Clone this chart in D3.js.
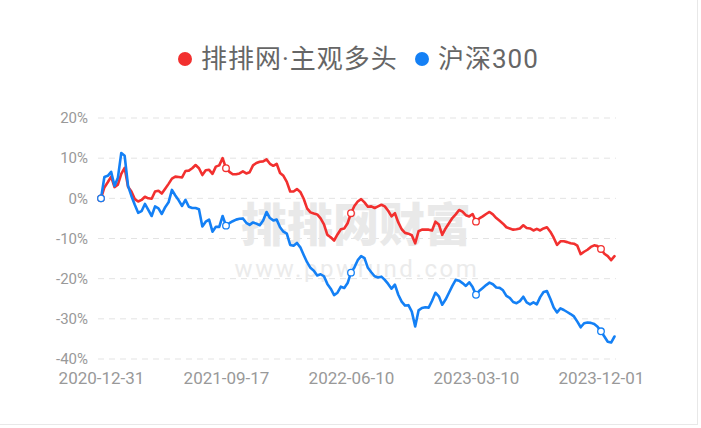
<!DOCTYPE html>
<html><head><meta charset="utf-8">
<script src="https://cdn.jsdelivr.net/npm/d3@7/dist/d3.min.js"></script>
<style>body{margin:0;background:#fff}svg{display:block}</style>
</head><body>
<svg id="c" width="701" height="428"></svg>
<script>
const seriesNames = ["排排网·主观多头", "沪深300"];
const seriesColors = ["#f2302f", "#1480f5"];
const tickLabels = ["2020-12-31", "2021-09-17", "2022-06-10", "2023-03-10", "2023-12-01"];
const tickIndex = [0, 37, 74, 111, 148];
const yTicks = [20, 10, 0, -10, -20, -30, -40];

const redValues = [0,2.7,4.0,5.4,2.8,3.4,6.1,7.6,2.9,1.7,-0.2,-0.8,-0.4,0.4,0.0,-0.1,1.7,1.9,1.2,2.4,3.6,4.9,5.4,5.3,5.2,6.8,6.9,7.5,8.3,7.5,5.8,7.0,7.1,6.1,7.9,8.2,10.0,7.5,
6.6,6.0,6.0,6.2,6.7,6.2,6.5,8.2,8.8,9.1,9.2,9.7,8.6,8.1,8.6,6.3,5.6,4.1,1.7,1.7,2.3,1.6,-0.1,-2.5,-3.5,-3.8,-4.0,-5.0,-6.5,-9.1,-9.7,-10.5,-9.0,-7.7,-7.5,-6.2,-3.7,
-1.9,-0.8,-0.2,-1.0,-2.1,-2.0,-2.4,-2.0,-1.6,-2.0,-3.1,-4.5,-3.7,-6.0,-7.7,-8.6,-8.8,-9.2,-11.2,-8.2,-7.8,-7.8,-7.8,-8.0,-5.8,-6.5,-9.1,-7.5,-6.2,-4.9,-4.0,-2.9,-3.3,-4.2,-4.5,-3.9,-5.8,
-5.0,-4.5,-3.9,-3.4,-4.0,-4.9,-5.6,-6.3,-7.2,-7.5,-7.8,-7.7,-7.5,-6.7,-7.4,-7.5,-8.0,-7.6,-8.0,-7.5,-7.2,-8.3,-9.8,-11.6,-10.7,-10.7,-10.9,-11.2,-11.3,-11.8,-13.9,-13.3,-12.8,-12.1,-11.7,-11.9,-12.6,-13.8,-14.4,-15.4,-14.4];

const blueValues = [0,5.3,5.6,6.6,3.1,5.1,11.3,10.6,3.1,0.6,-1.6,-3.6,-3.2,-1.4,-2.9,-4.4,-2.0,-2.5,-3.9,-2.2,-1.0,2.1,0.7,-0.5,-1.9,-0.4,-2.1,-2.4,-2.4,-2.7,-7.0,-5.8,-5.3,-8.3,-7.1,-7.1,-4.4,-6.8,
-6.2,-5.7,-5.3,-5.1,-5.0,-6.1,-6.6,-6.0,-6.3,-6.7,-5.5,-3.4,-4.9,-5.5,-5.3,-7.2,-8.3,-8.8,-11.6,-11.8,-11.1,-12.2,-14.1,-15.9,-17.3,-18.0,-19.2,-18.9,-19.4,-21.3,-22.5,-24.1,-23.5,-22.0,-22.3,-21.1,-18.5,
-17.2,-15.4,-14.4,-14.9,-17.3,-18.4,-19.4,-19.7,-19.5,-20.3,-21.3,-22.5,-21.5,-24.0,-25.7,-26.7,-26.6,-28.2,-31.9,-27.9,-27.3,-27.1,-27.2,-25.5,-23.5,-24.4,-26.5,-25.2,-23.5,-21.8,-20.3,-20.5,-21.1,-21.8,-20.9,-22.1,-24.0,
-23.0,-22.3,-21.6,-21.0,-21.4,-22.2,-22.3,-22.9,-24.3,-24.8,-25.8,-26.1,-25.6,-24.5,-25.9,-26.4,-25.9,-26.4,-24.6,-23.3,-23.1,-25.0,-27.2,-28.4,-27.4,-27.8,-28.3,-28.8,-29.4,-30.7,-32.1,-31.1,-30.9,-31.0,-31.3,-32.0,-33.1,-34.4,-35.7,-35.9,-34.4];

const svg = d3.select("#c");
const N = redValues.length;
const x = d3.scaleLinear().domain([0, N - 1]).range([101, 614.5]);
const y = d3.scaleLinear().domain([-40, 20]).range([359, 118]);

// frame
svg.append("line").attr("x1", 697.5).attr("x2", 697.5).attr("y1", 0).attr("y2", 425).attr("stroke", "#e8e8e8");
svg.append("line").attr("x1", 0).attr("x2", 698).attr("y1", 424.5).attr("y2", 424.5).attr("stroke", "#e8e8e8");

// grid
svg.append("g").selectAll("line").data(yTicks).join("line")
  .attr("x1", 98).attr("x2", 616)
  .attr("y1", d => y(d)).attr("y2", d => y(d))
  .attr("stroke", "#e3e3e3").attr("stroke-width", 1).attr("stroke-dasharray", "6,5");

// watermark
svg.append("text").attr("x", 356).attr("y", 241).attr("text-anchor", "middle")
  .attr("font-family", "Noto Sans CJK SC").attr("font-weight", 900).attr("font-size", 46)
  .attr("fill", "#e9e9e9").text("排排网财富");
svg.append("text").attr("x", 357).attr("y", 277).attr("text-anchor", "middle")
  .attr("font-family", "Roboto, Arial").attr("font-size", 24).attr("letter-spacing", 2.6)
  .attr("fill", "#ebebeb").text("www.ppwfund.com");

// y axis
const ya = svg.append("g").attr("transform", "translate(88,0)")
  .call(d3.axisLeft(y).tickValues(yTicks).tickFormat(d => d + "%").tickSize(0).tickPadding(0));
ya.select(".domain").remove();
ya.selectAll("text").attr("font-family", "Roboto").attr("font-size", 15).attr("fill", "#999");

// x axis
const xa = svg.append("g").attr("transform", "translate(0,368)")
  .call(d3.axisBottom(x).tickValues(tickIndex).tickFormat((d, i) => tickLabels[i]).tickSize(0).tickPadding(4));
xa.select(".domain").remove();
xa.selectAll("text").attr("font-family", "Roboto").attr("font-size", 17).attr("fill", "#999");

// lines
const line = d3.line().x((d, i) => x(i)).y(d => y(d));
[redValues, blueValues].forEach((vals, s) => {
  svg.append("path").datum(vals).attr("d", line).attr("fill", "none")
    .attr("stroke", seriesColors[s]).attr("stroke-width", 2.6)
    .attr("stroke-linejoin", "round").attr("stroke-linecap", "round");
});
[redValues, blueValues].forEach((vals, s) => {
  svg.append("g").selectAll("circle").data(tickIndex).join("circle")
    .attr("cx", d => x(d)).attr("cy", d => y(vals[d])).attr("r", 3.3)
    .attr("fill", "#fff").attr("stroke", seriesColors[s]).attr("stroke-width", 1.3);
});

// legend
const legX = [185, 422];
seriesNames.forEach((n, s) => {
  svg.append("circle").attr("cx", legX[s]).attr("cy", 59).attr("r", 7).attr("fill", seriesColors[s]);
  svg.append("text").attr("x", legX[s] + 16).attr("y", 59).attr("dy", "0.36em")
    .attr("font-family", "Roboto, 'Noto Sans CJK SC'").attr("font-size", 26).attr("letter-spacing", 1)
    .attr("fill", "#666").text(n);
});
</script>
</body></html>
